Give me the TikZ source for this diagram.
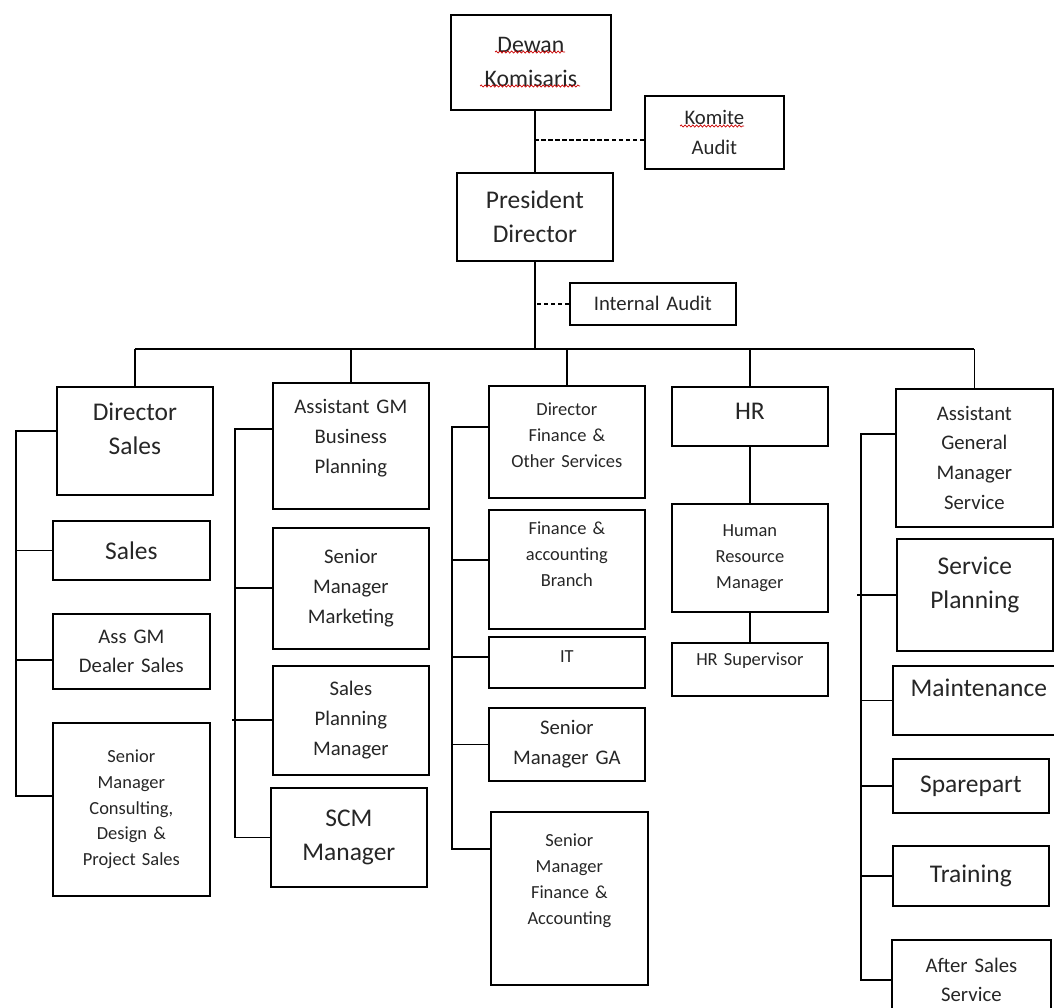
\documentclass[tikz,border=0pt]{standalone}
\usepackage{fontspec}
\setmainfont{Carlito}
\usepackage{xcolor}
\usetikzlibrary{decorations.pathmorphing}

\begin{document}
\begin{tikzpicture}[x=0.02cm, y=-0.02cm, line width=1pt,
    box/.style={draw, anchor=north west, inner sep=0pt, align=center, text=black!85},
    sz/.style 2 args={minimum width=#1, text width=#1, minimum height=#2},
    top/.style 2 args={text height=#1, text depth=#2},
    fbig/.style={font=\fontsize{14.5pt}{19.3pt}\selectfont},
    fmid/.style={font=\fontsize{11.8pt}{17pt}\selectfont},
    fsmall/.style={font=\fontsize{10.5pt}{14.7pt}\selectfont},
    dashlink/.style={dash pattern=on 2.5pt off 1.5pt},
    spellmark/.style={red!80!black, line width=0.4pt, decorate,
        decoration={snake, segment length=2.2pt, amplitude=0.6pt}}]
    \clip (0,0) rectangle (1054,1007);

    % top of the chart
    \node[box, sz={3.2cm}{1.9cm}, font=\fontsize{13.5pt}{19.3pt}\selectfont] (dewan) at (450,14) {Dewan\\Komisaris};
    \node[box, sz={2.78cm}{1.46cm}, fmid] (komite) at (644,95) {Komite\\Audit};
    \node[box, sz={3.12cm}{1.76cm}, fbig] (pres) at (456,172) {President\\Director};
    \node[box, sz={3.32cm}{0.84cm}, fmid] (intaudit) at (569,282) {Internal Audit};

    % spell check marks
    \draw[spellmark] (495,52) -- (565,52);
    \draw[spellmark] (480,86) -- (580,86);
    \draw[spellmark] (680,126) -- (744,126);

    % sales
    \node[box, sz={3.12cm}{2.16cm}, top={0.68cm}{1.48cm}, fbig] (dsales) at (56,386) {Director\\Sales};
    \node[box, sz={3.14cm}{1.18cm}, fbig] (sales) at (52,520) {Sales};
    \node[box, sz={3.14cm}{1.5cm}, fmid] (assgm) at (52,613) {Ass GM\\Dealer Sales};
    \node[box, sz={3.14cm}{3.46cm}, fsmall] (smcons) at (52,722) {Senior\\Manager\\Consulting,\\Design \&\\Project Sales};

    % business planning
    \node[box, sz={3.12cm}{2.52cm}, top={0.62cm}{1.9cm}, fmid] (agmbp) at (272,382) {Assistant GM\\Business\\Planning};
    \node[box, sz={3.12cm}{2.42cm}, fmid] (smm) at (272,527) {Senior\\Manager\\Marketing};
    \node[box, sz={3.12cm}{2.18cm}, fmid] (spm) at (272,665) {Sales\\Planning\\Manager};
    \node[box, sz={3.12cm}{1.98cm}, fbig] (scm) at (270,787) {SCM\\Manager};

    % finance
    \node[box, sz={3.12cm}{2.24cm}, top={0.6cm}{1.64cm}, fsmall] (dfin) at (488,385) {Director\\Finance \&\\Other Services};
    \node[box, sz={3.12cm}{2.38cm}, top={0.5cm}{1.88cm}, fsmall] (fab) at (488,509) {Finance \&\\accounting\\Branch};
    \node[box, sz={3.12cm}{1.02cm}, top={0.52cm}{0.5cm}, fsmall] (it) at (488,636) {IT};
    \node[box, sz={3.12cm}{1.46cm}, fmid] (smga) at (488,707) {Senior\\Manager GA};
    \node[box, sz={3.14cm}{3.46cm}, top={0.7cm}{2.76cm}, fsmall] (smfa) at (490,811) {Senior\\Manager\\Finance \&\\Accounting};

    % human resources
    \node[box, sz={3.12cm}{1.18cm}, top={0.66cm}{0.52cm}, fbig] (hr) at (671,386) {HR};
    \node[box, sz={3.12cm}{2.16cm}, fsmall] (hrm) at (671,503) {Human\\Resource\\Manager};
    \node[box, sz={3.12cm}{1.06cm}, top={0.46cm}{0.6cm}, fsmall] (hrsup) at (671,642) {HR Supervisor};

    % service
    \node[box, sz={3.14cm}{2.76cm}, fmid] (agms) at (895,388) {Assistant\\General\\Manager\\Service};
    \node[box, sz={3.12cm}{2.24cm}, top={0.72cm}{1.52cm}, fbig] (svcp) at (896,538) {Service\\Planning};
    \node[box, sz={3.44cm}{1.38cm}, top={0.62cm}{0.76cm}, fbig] (maint) at (892,665) {Maintenance};
    \node[box, sz={3.12cm}{1.08cm}, fbig] (spare) at (892,758) {Sparepart};
    \node[box, sz={3.12cm}{1.2cm}, fbig] (train) at (892,845) {Training};
    \node[box, sz={3.18cm}{1.6cm}, fmid] (asserv) at (891,939) {After Sales\\Service};

    % links at the top
    \coordinate (bus) at (535,349);
    \draw (pres.north) -- (pres.north |- dewan.south);
    \draw[dashlink] ([yshift=-0.15cm]komite.west) -- ([yshift=-0.15cm]komite.west -| pres.north);
    \draw (pres.south) -- (pres.south |- bus);
    \draw[dashlink] (intaudit.west) -- (intaudit.west -| pres.south);
    \draw (dsales.north |- bus) -- (agms.north |- bus);
    \foreach \n in {dsales,agmbp,dfin,hr,agms}
        \draw (\n.north) -- (\n.north |- bus);

    % branches
    \draw ([yshift=0.2cm]dsales.west) -- ++(-40,0) |- ([yshift=0.27cm]smcons.west);
    \draw (sales.west) -- ++(-36,0);
    \draw ([yshift=-0.17cm]assgm.west) -- ++(-36,0);

    \draw ([yshift=0.34cm]agmbp.west) -- ++(-37,0) |- (scm.west);
    \draw (smm.west) -- ++(-37,0);
    \draw (spm.west) -- ++(-40,0);

    \draw ([yshift=0.3cm]dfin.west) -- ++(-36,0) |- ([yshift=0.99cm]smfa.west);
    \draw ([yshift=0.19cm]fab.west) -- ++(-36,0);
    \draw ([yshift=0.11cm]it.west) -- ++(-36,0);
    \draw (smga.west) -- ++(-36,0);

    \draw (hr.south) -- (hrm.north);
    \draw (hrm.south) -- (hrsup.north);

    \draw ([yshift=0.48cm]agms.west) -- ++(-34,0) |- (asserv.west);
    \draw (svcp.west) -- ++(-39,0);
    \foreach \n in {maint,spare,train}
        \draw (\n.west) -- ++(-31,0);
\end{tikzpicture}
\end{document}
